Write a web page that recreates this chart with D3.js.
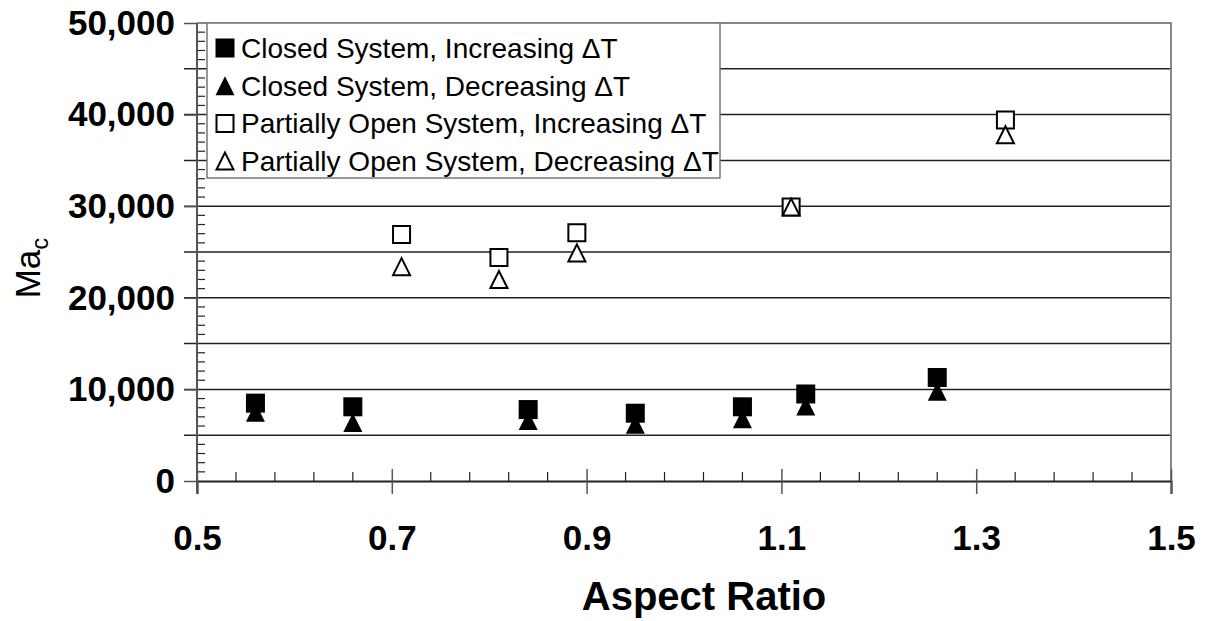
<!DOCTYPE html>
<html>
<head>
<meta charset="utf-8">
<script src="https://cdn.jsdelivr.net/npm/d3@7"></script>
<style>
    body { margin: 0; background: #fff; }
    text { font-family: "Liberation Sans", Arial, sans-serif; fill: #000; }
</style>
</head>
<body>
<div id="chart"></div>
<script>
// aspect ratio positions
const closedX = [0.56, 0.66, 0.84, 0.95, 1.06, 1.125, 1.26];
const openX = [0.71, 0.81, 0.89, 1.11, 1.33];

// critical Marangoni numbers
const closedIncreasing = [8500, 8100, 7800, 7400, 8100, 9500, 11300];
const closedDecreasing = [7500, 6400, 6600, 6200, 6800, 8200, 9800];
const openIncreasing = [26900, 24400, 27100, 29900, 39400];
const openDecreasing = [23400, 22000, 24900, 29900, 37800];

const xTicks = [0.5, 0.7, 0.9, 1.1, 1.3, 1.5];
const yTicks = [0, 10000, 20000, 30000, 40000, 50000];

const seriesNames = [
    'Closed System, Increasing \u0394T',
    'Closed System, Decreasing \u0394T',
    'Partially Open System, Increasing \u0394T',
    'Partially Open System, Decreasing \u0394T'
];

const width = 1210, height = 621;
const margin = { left: 197, right: 39, top: 23, bottom: 140 };
const w = width - margin.left - margin.right;
const h = height - margin.top - margin.bottom;

const svg = d3.select('#chart').append('svg')
    .attr('width', width)
    .attr('height', height);

const g = svg.append('g')
    .attr('transform', `translate(${margin.left}, ${margin.top})`);

const x = d3.scaleLinear().domain([0.5, 1.5]).range([0, w]);
const y = d3.scaleLinear().domain([0, 50000]).range([h, 0]);

// horizontal gridlines every 5000
g.append('g').selectAll('line')
    .data(d3.range(5000, 50000, 5000))
    .join('line')
    .attr('x1', -13).attr('x2', w)
    .attr('y1', d => y(d)).attr('y2', d => y(d))
    .attr('stroke', '#222').attr('stroke-width', 1.5);

// plot border (top / right)
g.append('path')
    .attr('d', `M0,0H${w}V${h}`)
    .attr('fill', 'none')
    .attr('stroke', '#888').attr('stroke-width', 2);

// minor ticks
g.append('g').selectAll('line')
    .data(d3.range(1000, 50000, 1000).filter(d => d % 5000 !== 0))
    .join('line')
    .attr('x1', 0).attr('x2', 8)
    .attr('y1', d => y(d)).attr('y2', d => y(d))
    .attr('stroke', '#222').attr('stroke-width', 1.2);

g.append('g').selectAll('line')
    .data(d3.range(0, 25).map(i => 0.5 + i * 0.04).filter((d, i) => i % 5 !== 0))
    .join('line')
    .attr('x1', d => x(d)).attr('x2', d => x(d))
    .attr('y1', h - 9).attr('y2', h)
    .attr('stroke', '#222').attr('stroke-width', 1.2);

// axes
const xAxis = g.append('g')
    .attr('transform', `translate(0, ${h})`)
    .call(d3.axisBottom(x).tickValues(xTicks).tickSize(13).tickPadding(31)
        .tickFormat(d3.format('.1f')));
xAxis.selectAll('.tick line').attr('y1', -12).attr('stroke', '#555').attr('stroke-width', 1.5);
xAxis.select('.domain').attr('stroke', '#222').attr('stroke-width', 2);

const yAxis = g.append('g')
    .call(d3.axisLeft(y).tickValues(yTicks).tickSize(13).tickPadding(9)
        .tickFormat(d3.format(',')));
yAxis.selectAll('.tick line').attr('stroke', '#555').attr('stroke-width', 1.5);
yAxis.select('.domain').attr('d', `M0,0V${h + 13}`).attr('stroke', '#555').attr('stroke-width', 2);

svg.selectAll('.tick text')
    .attr('font-size', 35)
    .attr('font-weight', 'bold')
    .attr('font-family', '"Liberation Sans", Arial, sans-serif')
    .attr('fill', '#000');

// axis titles
svg.append('text')
    .attr('x', 704).attr('y', 610)
    .attr('text-anchor', 'middle')
    .attr('font-size', 40).attr('font-weight', 'bold')
    .text('Aspect Ratio');

const yTitle = svg.append('text')
    .attr('transform', 'translate(40, 268) rotate(-90)')
    .attr('text-anchor', 'middle')
    .attr('font-size', 35);
yTitle.append('tspan').text('Ma');
yTitle.append('tspan').attr('font-size', 24).attr('dy', 8).text('c');

// markers
const tri = 'M0,-9.5L9.5,9.5L-9.5,9.5Z';
const sq = 'M-9.5,-9.5H9.5V9.5H-9.5Z';
const openTri = 'M0,-8.5L8.5,8.5L-8.5,8.5Z';
const openSq = 'M-8.5,-8.5H8.5V8.5H-8.5Z';

function drawSeries(xs, ys, shape, filled) {
    g.append('g').selectAll('path')
        .data(xs.map((d, i) => [d, ys[i]]))
        .join('path')
        .attr('transform', d => `translate(${x(d[0])}, ${y(d[1])})`)
        .attr('d', shape)
        .attr('fill', filled ? '#000' : '#fff')
        .attr('stroke', '#000')
        .attr('stroke-width', filled ? 0 : 2);
}

drawSeries(closedX, closedIncreasing, sq, true);
drawSeries(closedX, closedDecreasing, tri, true);
drawSeries(openX, openIncreasing, openSq, false);
drawSeries(openX, openDecreasing, openTri, false);

// legend
const legend = svg.append('g').attr('transform', 'translate(207, 23)');
legend.append('rect')
    .attr('width', 513).attr('height', 155)
    .attr('fill', '#fff')
    .attr('stroke', '#777').attr('stroke-width', 1.5);

const legendShapes = [[sq, true], [tri, true], [openSq, false], [openTri, false]];
seriesNames.forEach((name, i) => {
    const cy = 25 + i * 37.7;
    legend.append('path')
        .attr('transform', `translate(18, ${cy})`)
        .attr('d', legendShapes[i][0])
        .attr('fill', legendShapes[i][1] ? '#000' : '#fff')
        .attr('stroke', '#000')
        .attr('stroke-width', legendShapes[i][1] ? 0 : 2);
    legend.append('text')
        .attr('x', 34).attr('y', cy + 10)
        .attr('font-size', 28)
        .text(name);
});
</script>
</body>
</html>
